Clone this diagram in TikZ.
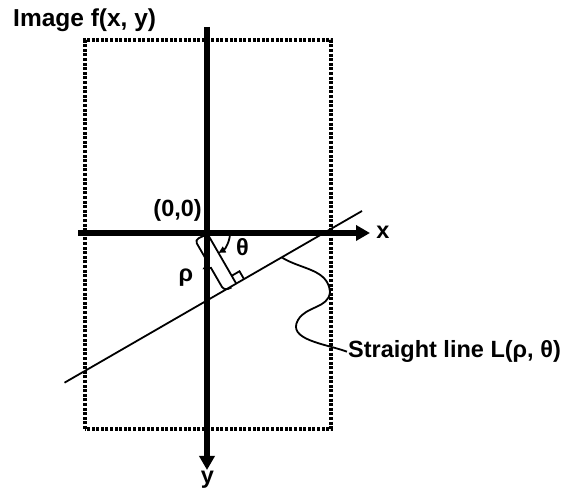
\documentclass[tikz,border=0pt]{standalone}
\usepackage{fontspec}
\setmainfont{Liberation Sans}
\usetikzlibrary{arrows.meta,calc}
\begin{document}
\begin{tikzpicture}[x=1pt,y=1pt,
  axisline/.style={line width=5.5pt, -{Triangle[length=14pt,width=15pt]}},
  frameline/.style={line width=3.5pt, dash pattern=on 3pt off 1.6pt},
  lline/.style={line width=1.8pt},
  lbl/.style={font=\bfseries\fontsize{23.5}{25}\selectfont, inner sep=0pt}
]
\useasboundingbox (0,0) rectangle (574,492);
% frame
\draw[frameline] (85,63) rectangle (331,452);
% axes
\coordinate (xs) at (78,259);
\coordinate (xe) at (370,259);
\coordinate (ys) at (207,465);
\coordinate (ye) at (207,22);
\coordinate (O) at (207,259);
\draw[axisline] (xs) -- (xe);
\draw[axisline] (ys) -- (ye);
% straight line
\coordinate (L1) at (64.5,109.3);
\coordinate (L2) at (362,281);
\draw[lline] (L1) -- (L2);
% normal
\def\rh{58.4}
\coordinate (F) at ($(O)+(-60:\rh)$);
\draw[lline] (O) -- (F);
\begin{scope}[shift={(O)}, rotate=-60]
  \draw[lline] (\rh-9,0) -- (\rh-9,9) -- (\rh,9);
  \draw[lline, rounded corners=4pt] (1,-2) -- (0,-14) -- (\rh/2-3,-14)
     [sharp corners] -- (\rh/2,-20) -- (\rh/2+3,-14)
     [rounded corners=4pt] -- (\rh,-14) -- (\rh+1,-6);
\end{scope}
% theta arc
\draw[lline, -{Triangle[length=7pt,width=6.5pt]}] ($(O)+(-3:23)$) arc[start angle=-3, end angle=-60, radius=23pt];
% labels
\node[lbl, font=\bfseries\fontsize{24.5}{26}\selectfont, anchor=base west] (title) at (13,465.5) {Image f(x, y)};
\node[lbl, anchor=base east] (orig) at (202,275) {(0,0)};
\node[lbl, anchor=base] (xl) at (383,253) {x};
\node[lbl, anchor=base] (yl) at (207.5,8) {y};
\node[lbl, anchor=base] (th) at (242.5,236) {θ};
\node[lbl, anchor=base] (rl) at (186,210) {ρ};
\node[lbl, anchor=base west] (lab) at (348,134.3) {Straight line L(ρ, θ)};
% callout
\coordinate (S) at (281.7,234.6);
\coordinate (R) at (330,200);
\coordinate (Lf) at (298,172);
\draw[lline] (S) to[out=-32, in=95] (R) to[out=-95, in=60] (Lf) to[out=-120, in=160] ([xshift=-1pt]lab.west);
\end{tikzpicture}
\end{document}
